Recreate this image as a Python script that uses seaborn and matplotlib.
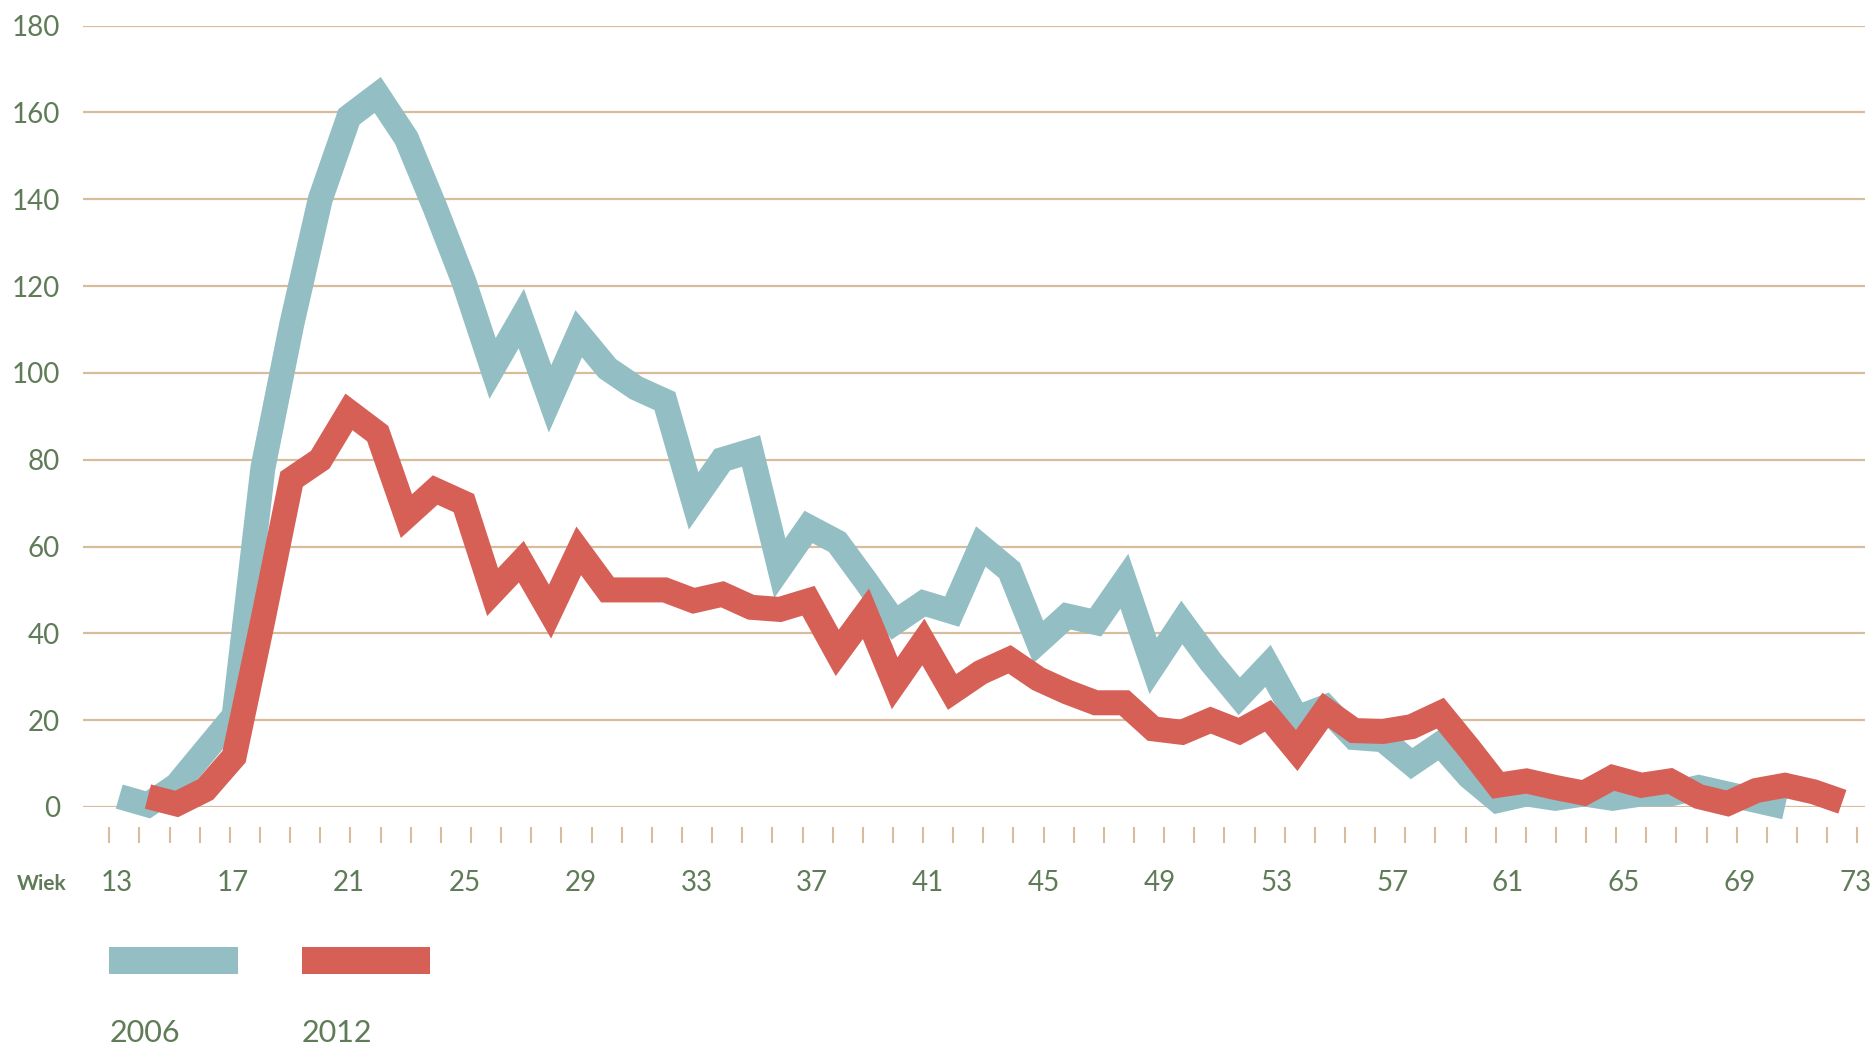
import numpy as np
import pandas as pd
import matplotlib
matplotlib.use("Agg")
import matplotlib.pyplot as plt
from matplotlib.patches import Rectangle
import seaborn as sns

# Data
ages_2006 = list(range(13, 72))
values_2006 = [2.4, 0.5, 5, 13, 21, 78, 111, 140, 159, 164,
               154, 138, 121, 101, 112.5, 94, 109, 101, 96.5, 93.5,
               70.5, 80, 82, 55, 64.5, 61, 52, 42.5, 47, 45,
               60, 54.5, 38, 44, 42.5, 52, 32.5, 42.5, 33.5, 25.5,
               32.5, 20.5, 23, 16, 15.5, 10, 14.5, 7, 1.5, 3,
               2, 3, 2, 3, 3, 4.5, 3, 1.5, 0]

ages_2012 = list(range(14, 74))
values_2012 = [2.4, 0.7, 4, 11.6, 43, 75.5, 80, 91, 86, 67,
               73, 70, 49.5, 56.5, 45, 59, 50, 50, 50, 47.5,
               49, 46, 45.5, 47.5, 35.5, 44.5, 28.5, 38, 26.5, 31,
               34, 29.5, 26.5, 24, 24, 18, 17.2, 20, 17.4, 21,
               13, 22.3, 17.6, 17.4, 18.5, 21.6, 13.5, 5, 6, 4.5,
               3.2, 6.8, 5, 6, 2.4, 0.8, 3.8, 5, 3.5, 1.2]

series_names = ["2006", "2012"]
series_colors = ["#93BEC3", "#D65F56"]
x_tick_labels = [str(a) for a in range(13, 74, 4)]
y_ticks = list(range(0, 181, 20))

text_color = "#5F7B57"
grid_color = "#D8BD9D"

sns.set_style("white")
plt.rcParams["font.family"] = ["Lato", "DejaVu Sans"]

df = pd.concat([
    pd.DataFrame({"Wiek": ages_2006, "value": values_2006, "rok": series_names[0]}),
    pd.DataFrame({"Wiek": ages_2012, "value": values_2012, "rok": series_names[1]}),
])

fig = plt.figure(figsize=(18.75, 10.46), dpi=100)
ax = fig.add_axes([0.0443, 0.2285, 0.9504, 0.7471])

for name, color in zip(series_names, series_colors):
    sub = df[df["rok"] == name]
    sns.lineplot(data=sub, x="Wiek", y="value", ax=ax, color=color,
                 linewidth=18, solid_capstyle="butt", solid_joinstyle="miter",
                 clip_on=False, legend=False, zorder=3)

ax.set_xlim(11.74, 73.79)
ax.set_ylim(0, 180)

# y axis
ax.set_yticks(y_ticks)
ax.set_yticklabels([str(v) for v in y_ticks])
ax.yaxis.grid(True, color=grid_color, linewidth=1.6)
ax.xaxis.grid(False)
ax.tick_params(axis="y", left=True, length=0, pad=16.5, labelsize=20,
               labelcolor=text_color)

# x axis: label ticks and small tick marks
ax.set_xticks(np.linspace(12.91, 73.47, len(x_tick_labels)))
ax.set_xticklabels(x_tick_labels)
ax.set_xticks(np.linspace(12.655, 73.52, 59), minor=True)
ax.tick_params(axis="x", which="major", bottom=True, length=0, pad=31,
               labelsize=20, labelcolor=text_color)
ax.tick_params(axis="x", which="minor", bottom=True, length=11.5, width=1.5,
               color=grid_color, direction="out")

ax.spines["bottom"].set_position(("outward", 14.4))
for s in ["top", "right", "left", "bottom"]:
    ax.spines[s].set_color("none")

ax.set_xlabel("")
ax.set_ylabel("")
fig.text(0.0092, 0.1491, "Wiek", fontsize=15, fontweight="bold",
         color=text_color, ha="left", va="baseline")

# legend
legend_x = [0.0583, 0.1609]
for name, color, lx in zip(series_names, series_colors, legend_x):
    fig.add_artist(Rectangle((lx, 0.0691), 0.0685, 0.0252,
                             transform=fig.transFigure, color=color, lw=0))
    fig.text(lx, 0.0035, name, fontsize=22, color=text_color,
             ha="left", va="baseline")

fig.savefig("out.png", dpi=100)
